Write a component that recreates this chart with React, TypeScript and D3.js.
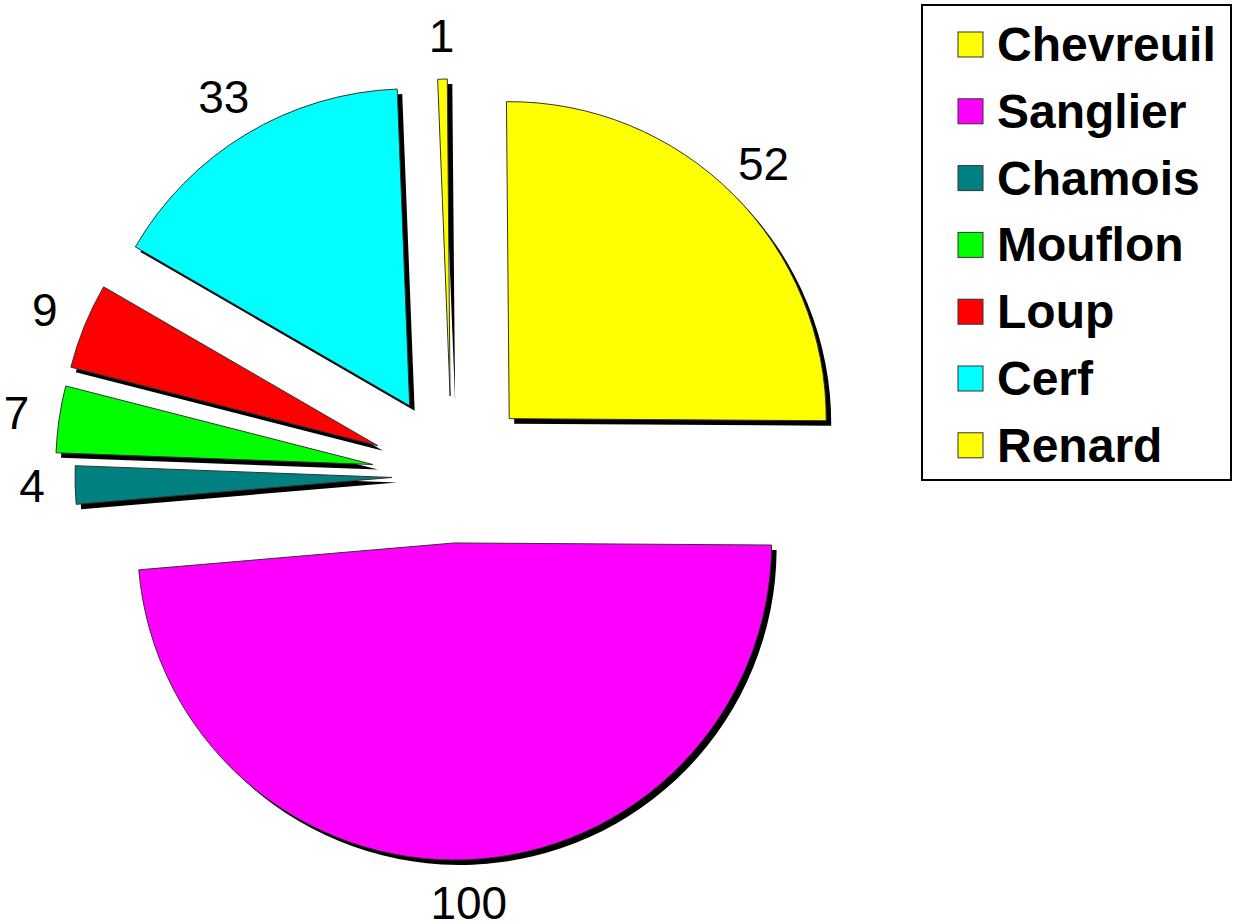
import * as d3 from 'd3';

const categories = ['Chevreuil', 'Sanglier', 'Chamois', 'Mouflon', 'Loup', 'Cerf', 'Renard'];
const values = [52, 100, 4, 7, 9, 33, 1];
const colors = ['#ffff00', '#ff00ff', '#008080', '#00ff00', '#ff0000', '#00ffff', '#ffff00'];
// per-slice explosion (px), as set on each point in the original chart
const explodeBy = [81, 67, 60, 80, 80, 82, 80];

type Slice = { name: string; value: number; color: string; explode: number };

const data: Slice[] = categories.map((name, i) => ({
  name,
  value: values[i],
  color: colors[i],
  explode: explodeBy[i],
}));

const App = () => {
  const width = 1234;
  const height = 922;
  const cx = 452;
  const cy = 476;
  const radius = 317;
  const labelDist = 360;
  const rot = (-0.5 * Math.PI) / 180;

  const pie = d3
    .pie<Slice>()
    .value((d) => d.value)
    .sort(null)
    .startAngle(rot)
    .endAngle(rot + 2 * Math.PI);
  const arcs = pie(data);
  const arc = d3.arc<d3.PieArcDatum<Slice>>().innerRadius(0).outerRadius(radius);

  // offset along the slice's mid angle
  const offset = (a: d3.PieArcDatum<Slice>, dist: number) => {
    const mid = (a.startAngle + a.endAngle) / 2;
    return [Math.sin(mid) * dist, -Math.cos(mid) * dist];
  };

  const legend = { x: 922, y: 5, w: 309, h: 475, rowH: 66.8, first: 44 };

  return (
    <svg
      width={width}
      height={height}
      style={{ position: 'absolute', left: 0, top: 0, background: '#fff' }}
      fontFamily="'Liberation Sans', Arial, sans-serif"
    >
      <g transform={`translate(${cx},${cy})`}>
        {/* shadows */}
        {arcs.map((a, i) => {
          const [ox, oy] = offset(a, a.data.explode);
          return (
            <path key={`s${i}`} d={arc(a)!} transform={`translate(${ox + 5},${oy + 5})`} fill="#000" />
          );
        })}
        {arcs.map((a, i) => {
          const [ox, oy] = offset(a, a.data.explode);
          return (
            <path
              key={`p${i}`}
              d={arc(a)!}
              transform={`translate(${ox},${oy})`}
              fill={a.data.color}
              stroke="#333"
              strokeWidth={1}
            />
          );
        })}
        {arcs.map((a, i) => {
          const [ox, oy] = offset(a, a.data.explode + labelDist);
          return (
            <text
              key={`l${i}`}
              x={ox}
              y={oy}
              textAnchor="middle"
              dominantBaseline="central"
              fontSize={46}
              fill="#000"
            >
              {a.data.value}
            </text>
          );
        })}
      </g>

      <rect x={legend.x} y={legend.y} width={legend.w} height={legend.h} fill="#fff" stroke="#000" strokeWidth={2} />
      {data.map((d, i) => {
        const y = legend.y + legend.first - 5 + i * legend.rowH;
        return (
          <g key={`g${i}`}>
            <rect x={958} y={y - 12} width={25} height={25} fill={d.color} stroke="#333" strokeWidth={1} />
            <text x={997} y={y + 17} fontSize={48} fontWeight="bold" fill="#000">
              {d.name}
            </text>
          </g>
        );
      })}
    </svg>
  );
};

export default App;
